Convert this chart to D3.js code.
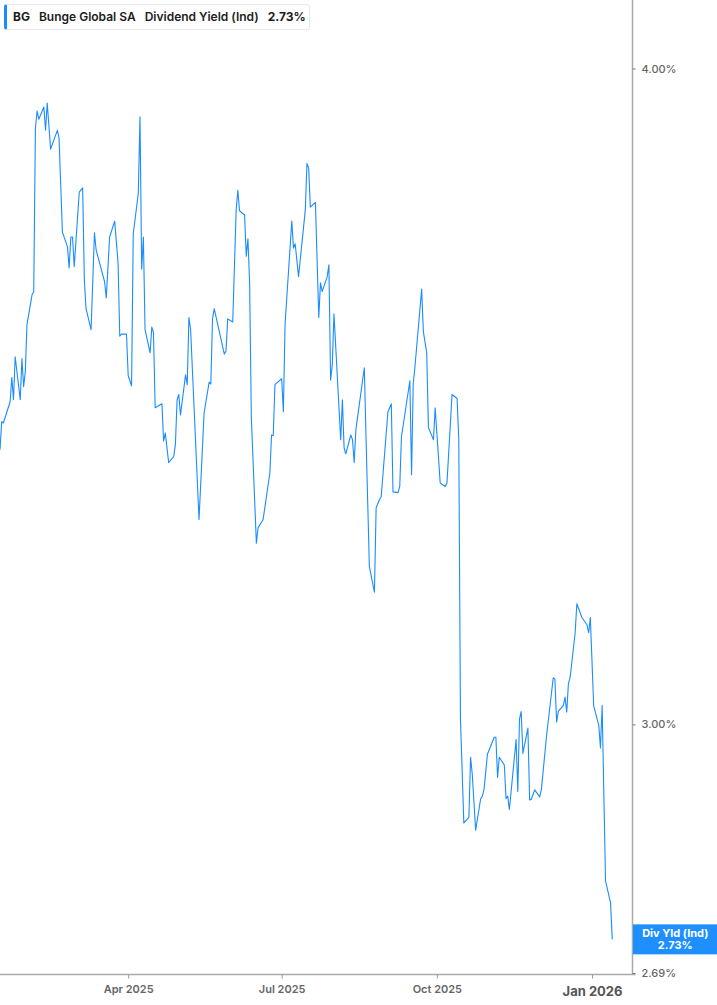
<!DOCTYPE html>
<html>
<head>
    <meta charset="utf-8">
    <title>BG Dividend Yield</title>
    <script src="https://d3js.org/d3.v7.min.js"></script>
    <style>
        body { margin: 0; background: #fff; font-family: Inter, 'Noto Sans', sans-serif; }
        #legend {
            position: absolute; left: 4px; top: 4px; height: 26px; width: 306px;
            border: 1px solid #e6e8eb; border-left: 3px solid #1a8cff; border-radius: 3px;
            box-sizing: border-box; font-size: 12px; font-weight: 600; color: #1c1c1c;
            line-height: 24px; padding-left: 6px; white-space: nowrap;
        }
        #legend span { margin-right: 9px; }
    </style>
</head>
<body>
    <div id="legend"><span style="font-weight:700">BG</span><span>Bunge Global SA</span><span>Dividend Yield (Ind)</span><span style="font-weight:700">2.73%</span></div>
    <svg id="chart" width="717" height="1005"></svg>

    <script>
        const dates = [
            "2025-01-15","2025-01-16","2025-01-17","2025-01-21","2025-01-22","2025-01-23","2025-01-24","2025-01-27","2025-01-28","2025-01-29",
            "2025-01-30","2025-01-31","2025-02-03","2025-02-04","2025-02-05","2025-02-06","2025-02-07","2025-02-10","2025-02-11","2025-02-12",
            "2025-02-14","2025-02-18","2025-02-19","2025-02-21","2025-02-24","2025-02-25","2025-02-26","2025-02-27","2025-02-28","2025-03-03",
            "2025-03-05","2025-03-06","2025-03-07","2025-03-10","2025-03-12","2025-03-13","2025-03-18","2025-03-19","2025-03-21","2025-03-24",
            "2025-03-26","2025-03-27","2025-03-28","2025-03-31","2025-04-01","2025-04-03","2025-04-04","2025-04-07","2025-04-08","2025-04-09",
            "2025-04-10","2025-04-11","2025-04-14","2025-04-15","2025-04-16","2025-04-17","2025-04-21","2025-04-22","2025-04-23","2025-04-25",
            "2025-04-28","2025-04-29","2025-04-30","2025-05-01","2025-05-02","2025-05-05","2025-05-06","2025-05-07","2025-05-08","2025-05-13",
            "2025-05-16","2025-05-19","2025-05-20","2025-05-21","2025-05-22","2025-05-28","2025-05-29","2025-05-30","2025-06-02","2025-06-04",
            "2025-06-05","2025-06-06","2025-06-09","2025-06-10","2025-06-11","2025-06-12","2025-06-13","2025-06-16","2025-06-17","2025-06-20",
            "2025-06-24","2025-06-25","2025-06-26","2025-06-27","2025-07-01","2025-07-02","2025-07-03","2025-07-07","2025-07-08","2025-07-09",
            "2025-07-11","2025-07-15","2025-07-16","2025-07-17","2025-07-18","2025-07-21","2025-07-23","2025-07-24","2025-07-25","2025-07-28",
            "2025-07-29","2025-07-30","2025-07-31","2025-08-01","2025-08-05","2025-08-06","2025-08-07","2025-08-08","2025-08-11","2025-08-12",
            "2025-08-13","2025-08-14","2025-08-19","2025-08-20","2025-08-22","2025-08-25","2025-08-26","2025-08-28","2025-08-29","2025-09-02",
            "2025-09-04","2025-09-05","2025-09-08","2025-09-09","2025-09-10","2025-09-15","2025-09-16","2025-09-17","2025-09-18","2025-09-22",
            "2025-09-23","2025-09-25","2025-09-26","2025-09-29","2025-09-30","2025-10-03","2025-10-06","2025-10-07","2025-10-10","2025-10-13",
            "2025-10-14","2025-10-15","2025-10-17","2025-10-20","2025-10-21","2025-10-22","2025-10-24","2025-10-27","2025-10-28","2025-10-29",
            "2025-10-31","2025-11-04","2025-11-05","2025-11-06","2025-11-07","2025-11-10","2025-11-11","2025-11-12","2025-11-13","2025-11-17",
            "2025-11-18","2025-11-19","2025-11-20","2025-11-21","2025-11-24","2025-11-25","2025-11-26","2025-11-28","2025-12-01","2025-12-02",
            "2025-12-05","2025-12-09","2025-12-10","2025-12-11","2025-12-12","2025-12-15","2025-12-16","2025-12-17","2025-12-18","2025-12-19",
            "2025-12-22","2025-12-23","2025-12-26","2025-12-29","2025-12-30","2025-12-31","2026-01-02","2026-01-05","2026-01-06","2026-01-07",
            "2026-01-09","2026-01-12","2026-01-13"
        ];

        // dividend yield (ind), percent
        const yields = [
            3.384,3.426,3.424,3.456,3.493,3.459,3.525,3.459,3.522,3.479,
            3.502,3.575,3.622,3.627,3.897,3.926,3.912,3.933,3.893,3.940,
            3.861,3.893,3.880,3.723,3.699,3.665,3.715,3.715,3.667,3.789,
            3.796,3.646,3.600,3.567,3.722,3.694,3.643,3.617,3.715,3.741,
            3.673,3.557,3.560,3.560,3.496,3.480,3.720,3.787,3.916,3.663,
            3.715,3.567,3.531,3.571,3.562,3.447,3.453,3.397,3.409,3.365,
            3.374,3.392,3.459,3.467,3.436,3.497,3.482,3.586,3.568,3.282,
            3.439,3.486,3.483,3.584,3.600,3.529,3.534,3.584,3.579,3.759,
            3.792,3.758,3.751,3.684,3.712,3.641,3.433,3.248,3.270,3.282,
            3.350,3.406,3.405,3.482,3.491,3.441,3.575,3.741,3.697,3.704,
            3.651,3.759,3.837,3.829,3.764,3.772,3.586,3.641,3.627,3.651,
            3.670,3.489,3.512,3.592,3.399,3.459,3.387,3.378,3.406,3.399,
            3.365,3.414,3.508,3.403,3.215,3.179,3.299,3.311,3.315,3.441,
            3.453,3.322,3.321,3.330,3.403,3.488,3.347,3.483,3.509,3.631,
            3.564,3.531,3.417,3.399,3.447,3.335,3.330,3.335,3.467,3.461,
            3.399,3.007,2.873,2.880,2.957,2.935,2.864,2.904,2.907,2.916,
            2.961,2.983,2.983,2.931,2.957,2.947,2.904,2.907,2.890,2.980,
            2.913,3.007,3.017,2.962,2.995,2.902,2.903,2.915,2.906,2.916,
            2.984,3.062,3.060,3.003,3.017,3.025,3.036,3.016,3.054,3.062,
            3.123,3.163,3.144,3.134,3.123,3.144,3.024,2.999,2.969,3.025,
            2.801,2.774,2.730
        ];

        const yTicks = [2.69, 3.00, 4.00];
        const lastLabel = "Div Yld (Ind)";

        const parseDate = d3.timeParse("%Y-%m-%d");
        const points = dates.map((d, i) => ({date: parseDate(d), value: yields[i]}));

        const plotRight = 632.5;
        const plotBottom = 974.5;

        let svg = d3.select("#chart");

        let x = d3.scaleTime()
            .domain([parseDate("2025-01-15"), parseDate("2026-01-25")])
            .range([0, plotRight]);

        let y = d3.scaleLog()
            .domain([2.69, 4.00])
            .range([plotBottom - 1.5, 68.5]);

        // x axis
        let xAxis = d3.axisBottom(x)
            .ticks(d3.timeMonth.every(3))
            .tickFormat(d3.timeFormat("%b %Y"))
            .tickSize(4)
            .tickSizeOuter(0);

        let gx = svg.append("g")
            .attr("transform", `translate(0,${plotBottom})`)
            .call(xAxis);
        gx.select(".domain").attr("stroke", "#aaa").attr("stroke-width", 1.5)
            .attr("d", `M0,0H${plotRight + 3}`);
        gx.selectAll(".tick line").attr("stroke", "#999");
        gx.selectAll(".tick").filter(d => d < parseDate("2025-02-01")).remove();
        gx.selectAll(".tick text")
            .attr("dy", "1.05em")
            .attr("fill", "#666")
            .style("font-family", "Inter, sans-serif")
            .style("font-size", "11px")
            .style("font-weight", "600");
        // year starts are shown bigger
        gx.selectAll(".tick text").filter(d => d.getMonth() === 0)
            .attr("dy", "1.1em")
            .attr("fill", "#555")
            .style("font-size", "13px")
            .style("font-weight", "700");

        // y axis on the right
        let yAxis = d3.axisRight(y)
            .tickValues(yTicks)
            .tickFormat(d => d3.format(".2f")(d) + "%")
            .tickSize(3)
            .tickPadding(6);

        let gy = svg.append("g")
            .attr("transform", `translate(${plotRight},0)`)
            .call(yAxis);
        gy.select(".domain").attr("stroke", "#aaa").attr("stroke-width", 1.5)
            .attr("d", `M0,0V${plotBottom}`);
        gy.selectAll(".tick line").attr("stroke", "#777");
        gy.selectAll(".tick text")
            .attr("fill", "#666")
            .style("font-family", "Inter, sans-serif")
            .style("font-size", "11px")
            .style("font-weight", "500");

        // line
        let line = d3.line()
            .x(d => x(d.date))
            .y(d => y(d.value));

        svg.append("path")
            .datum(points)
            .attr("fill", "none")
            .attr("stroke", "#1a8cff")
            .attr("stroke-width", 1.1)
            .attr("stroke-linejoin", "round")
            .attr("d", line);

        // last value label
        let last = points[points.length - 1];
        let ly = y(last.value);
        let label = svg.append("g").attr("transform", `translate(${plotRight + 0.5},${ly - 15})`);
        label.append("rect")
            .attr("width", 717 - plotRight)
            .attr("height", 30)
            .attr("fill", "#1e8fff");
        label.append("text")
            .attr("x", (717 - plotRight) / 2)
            .attr("y", 13)
            .attr("text-anchor", "middle")
            .attr("fill", "#fff")
            .style("font-family", "Inter, sans-serif")
            .style("font-size", "11px")
            .style("font-weight", "700")
            .text(lastLabel);
        label.append("text")
            .attr("x", (717 - plotRight) / 2)
            .attr("y", 25)
            .attr("text-anchor", "middle")
            .attr("fill", "#fff")
            .style("font-family", "Inter, sans-serif")
            .style("font-size", "11px")
            .style("font-weight", "700")
            .text(d3.format(".2f")(last.value) + "%");
    </script>
</body>
</html>
